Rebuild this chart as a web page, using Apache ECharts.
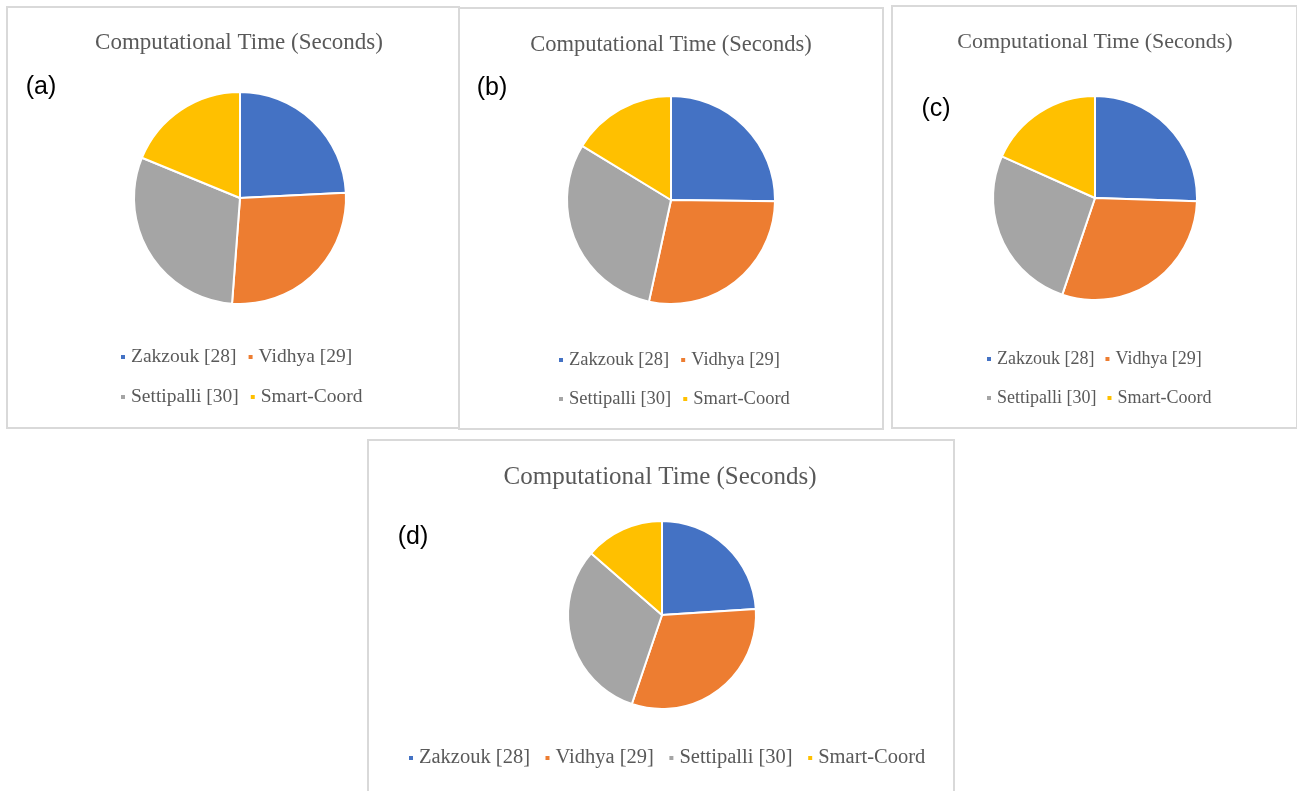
<!DOCTYPE html>
<html lang="en">
<head>
    <meta charset="utf-8">
    <title>Computational Time (Seconds)</title>
    <style>
        html, body { margin: 0; padding: 0; background: #fff; }
        #chart { width: 1297px; height: 791px; }
    </style>
</head>
<body>
<div id="chart"></div>
<script src="https://cdn.jsdelivr.net/npm/echarts@6.0.0/dist/echarts.min.js"></script>
<script type="text/javascript">

// methods (same for every panel)
var methods = ['Zakzouk [28]', 'Vidhya [29]', 'Settipalli [30]', 'Smart-Coord'];
var colors = ['#4472C4', '#ED7D31', '#A5A5A5', '#FFC000'];

// share of computational time (percent)
var timeA = [24.2, 27.0, 30.0, 18.8];
var timeB = [25.2, 28.2, 30.3, 16.3];
var timeC = [25.5, 29.7, 26.5, 18.3];
var timeD = [24.0, 31.2, 31.2, 13.6];

var panelLabels = ['(a)', '(b)', '(c)', '(d)'];
var titleText = 'Computational Time (Seconds)';

// layout of each panel, page pixels
var panels = [
    { box: [7, 7, 452, 421], center: [240, 198], r: 106, title: [239, 43, 23], tag: [41, 87],
      legend: [[119, 357], [119, 397]], legendFont: 19.5, gap: 10 },
    { box: [459, 8, 424, 421], center: [671, 200], r: 104, title: [671, 45, 22.5], tag: [492, 88],
      legend: [[557, 360], [557, 399]], legendFont: 18.5, gap: 10 },
    { box: [892, 6, 405, 422], center: [1095, 198], r: 102, title: [1095, 42, 22], tag: [936, 109],
      legend: [[985, 359], [985, 398]], legendFont: 18, gap: 9 },
    { box: [368, 440, 586, 360], center: [662, 615], r: 94, title: [660, 477, 25], tag: [413, 537],
      legend: [[407, 758]], legendFont: 20.5, gap: 13.5 }
];
var values = [timeA, timeB, timeC, timeD];

var chart = echarts.init(document.getElementById('chart'));

var series = [];
var legends = [];
var graphics = [];

panels.forEach(function (p, i) {
    // panel frame
    graphics.push({
        type: 'rect',
        shape: { x: p.box[0], y: p.box[1], width: p.box[2], height: p.box[3] },
        style: { fill: 'none', stroke: '#d9d9d9', lineWidth: 2 },
        silent: true
    });
    graphics.push({
        type: 'text',
        x: p.title[0], y: p.title[1],
        style: {
            text: titleText, fill: '#595959', font: p.title[2] + 'px "Liberation Serif"',
            align: 'center', verticalAlign: 'middle'
        }
    });
    graphics.push({
        type: 'text',
        x: p.tag[0], y: p.tag[1],
        style: {
            text: panelLabels[i], fill: '#000', font: '25px "Liberation Sans"',
            align: 'center', verticalAlign: 'middle'
        }
    });

    series.push({
        type: 'pie',
        center: p.center,
        radius: p.r,
        startAngle: 90,
        clockwise: true,
        label: { show: false },
        labelLine: { show: false },
        emphasis: { disabled: true },
        itemStyle: { borderColor: '#fff', borderWidth: 2 },
        data: methods.map(function (m, k) {
            return { name: m, value: values[i][k], itemStyle: { color: colors[k] } };
        })
    });

    // legend rows
    var rows = p.legend.length === 1 ? [methods] : [methods.slice(0, 2), methods.slice(2)];
    rows.forEach(function (rowData, j) {
        legends.push({
            data: rowData,
            left: p.legend[j][0],
            top: p.legend[j][1] - 11,
            orient: 'horizontal',
            icon: 'rect',
            itemWidth: 6,
            itemHeight: 6,
            itemGap: p.gap,
            selectedMode: false,
            padding: 0,
            textStyle: {
                fontFamily: 'Liberation Serif',
                fontSize: p.legendFont,
                color: '#595959',
                lineHeight: 22
            }
        });
    });
});

chart.setOption({
    backgroundColor: '#fff',
    animation: false,
    legend: legends,
    series: series,
    graphic: graphics
});

</script>
</body>
</html>
